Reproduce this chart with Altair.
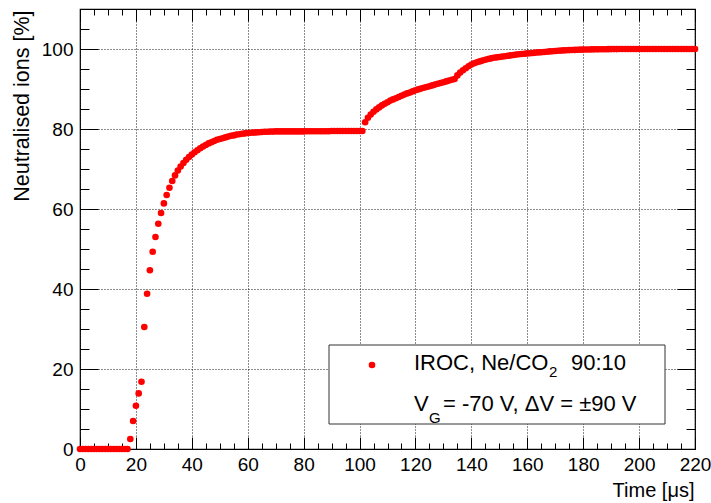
import altair as alt
import pandas as pd

# ---- data -------------------------------------------------------------
time_us = list(range(0, 221))
neutralised_pct = [
    0, 0, 0, 0, 0, 0, 0, 0, 0, 0,
    0, 0, 0, 0, 0, 0, 0, 0, 2.5, 7.0,
    10.8, 13.9, 16.8, 30.5, 38.8, 44.7, 49.3, 53.0, 56.3, 59.0,
    61.4, 63.5, 65.3, 67.0, 68.4, 69.6, 70.6, 71.5, 72.3, 73.0,
    73.6, 74.2, 74.7, 75.2, 75.6, 76.0, 76.4, 76.7, 77.0, 77.3,
    77.5, 77.7, 77.9, 78.1, 78.3, 78.4, 78.6, 78.7, 78.8, 78.9,
    79.0, 79.05, 79.1, 79.15, 79.2, 79.25, 79.3, 79.3, 79.35, 79.35,
    79.4, 79.4, 79.4, 79.4, 79.4, 79.4, 79.4, 79.4, 79.4, 79.4,
    79.4, 79.45, 79.45, 79.45, 79.45, 79.45, 79.45, 79.45, 79.45, 79.45,
    79.5, 79.5, 79.5, 79.5, 79.5, 79.5, 79.5, 79.5, 79.5, 79.5,
    79.5, 79.5, 81.7, 82.8, 83.6, 84.3, 84.9, 85.4, 85.9, 86.3,
    86.7, 87.1, 87.4, 87.7, 88.0, 88.3, 88.6, 88.9, 89.1, 89.4,
    89.7, 89.9, 90.1, 90.3, 90.5, 90.7, 90.9, 91.1, 91.3, 91.5,
    91.7, 91.9, 92.1, 92.3, 92.5, 93.4, 94.1, 94.7, 95.2, 95.7,
    96.1, 96.45, 96.7, 96.9, 97.1, 97.3, 97.5, 97.65, 97.8, 97.9,
    98.0, 98.1, 98.2, 98.3, 98.4, 98.5, 98.6, 98.7, 98.75, 98.8,
    98.9, 98.95, 99.0, 99.1, 99.15, 99.2, 99.25, 99.3, 99.4, 99.45,
    99.5, 99.55, 99.6, 99.65, 99.7, 99.72, 99.75, 99.78, 99.8, 99.83,
    99.85, 99.87, 99.88, 99.9, 99.91, 99.92, 99.93, 99.94, 99.95, 99.96,
    99.97, 99.98, 99.98, 99.99, 99.99, 100, 100, 100, 100, 100,
    100, 100, 100, 100, 100, 100, 100, 100, 100, 100,
    100, 100, 100, 100, 100, 100, 100, 100, 100, 100, 100,
]

x_ticks = list(range(0, 221, 5))
y_ticks = list(range(0, 111, 5))
x_title = "Time [μs]"
y_title = "Neutralised ions [%]"
legend_line1 = ["IROC, Ne/CO", "2", "90:10"]
legend_line2 = ["V", "G", "= -70 V, ΔV = ±90 V"]

df = pd.DataFrame({"t": time_us, "v": neutralised_pct})

FONT = "Liberation Sans"
MAJOR = "datum.value % 20 === 0"
MINOR = "datum.value % 20 !== 0"

x_scale = alt.Scale(domain=[0, 220], nice=False, zero=False)
y_scale = alt.Scale(domain=[0, 110], nice=False, zero=False)


def tick_axis(orient, values, size, labels=False, grid=False, title_size=20, **kw):
    return alt.Axis(
        orient=orient,
        values=values,
        tickSize=size,
        offset=-size,
        tickColor="black",
        tickWidth=1,
        tickDash={"condition": {"test": MINOR, "value": [0, size / 2, size / 2]},
                  "value": [size * 3, 0]},
        domain=False,
        grid=grid,
        gridColor="black",
        gridDash=[1, 2],
        gridWidth=1,
        gridOpacity={"condition": {"test": MAJOR, "value": 0.9}, "value": 0},
        labels=labels,
        labelExpr=f"{MAJOR} ? datum.label : ''",
        labelFont=FONT,
        labelFontSize=19,
        labelColor="black",
        labelFlush=False,
        labelOverlap=False,
        titleFont=FONT,
        titleFontSize=title_size,
        titleFontWeight="normal",
        titleColor="black",
        **kw,
    )


x_bottom = tick_axis("bottom", x_ticks, 12, labels=True, grid=True,
                     labelPadding=6, title=x_title, titleX=614, titleY=59.7,
                     titleAlign="right", titleBaseline="alphabetic", titleAngle=0)
y_left = tick_axis("left", y_ticks, 18, labels=True, grid=True, title_size=21.5,
                   labelPadding=7, title=y_title, titleX=-69.5, titleY=1,
                   titleAlign="right", titleBaseline="alphabetic", titleAngle=-90)
x_top = tick_axis("top", x_ticks, 12, title=None)
y_right = tick_axis("right", y_ticks, 18, title=None)

points = alt.Chart(df).mark_point(filled=True, color="#ff0000", size=44, opacity=1).encode(
    x=alt.X("t:Q", scale=x_scale, axis=x_bottom),
    y=alt.Y("v:Q", scale=y_scale, axis=y_left),
)

frame_axes = alt.Chart(df).mark_point(opacity=0).encode(
    x=alt.X("t:Q", scale=x_scale, axis=x_top),
    y=alt.Y("v:Q", scale=y_scale, axis=y_right),
)

one = pd.DataFrame({"k": [0]})
legend_box = alt.Chart(one).mark_rect(fill="white", stroke="#333333", strokeWidth=1).encode(
    x=alt.value(249), x2=alt.value(585), y=alt.value(336), y2=alt.value(415)
)
legend_dot = alt.Chart(one).mark_point(filled=True, color="#ff0000", size=44, opacity=1).encode(
    x=alt.value(292), y=alt.value(356)
)


def txt(s, x, y, size):
    return alt.Chart(one).mark_text(
        text=s, align="left", baseline="alphabetic", font=FONT, fontSize=size, color="black"
    ).encode(x=alt.value(x), y=alt.value(y))


legend_texts = [
    txt(legend_line1[0], 334, 361, 22),
    txt(legend_line1[1], 469, 368, 15),
    txt(legend_line1[2], 491, 361, 22),
    txt(legend_line2[0], 334, 402, 22),
    txt(legend_line2[1], 349, 413.5, 15),
    txt(legend_line2[2], 363, 402, 22),
]

chart = alt.layer(points, frame_axes, legend_box, legend_dot, *legend_texts).resolve_axis(
    x="independent", y="independent"
).properties(
    width=615,
    height=440,
    autosize="none",
    padding={"left": 80, "top": 9, "right": 16, "bottom": 54},
    background="white",
).configure_view(stroke="black", strokeWidth=1.2)

chart.save("out.html", embed_options={"renderer": "svg", "actions": False})
